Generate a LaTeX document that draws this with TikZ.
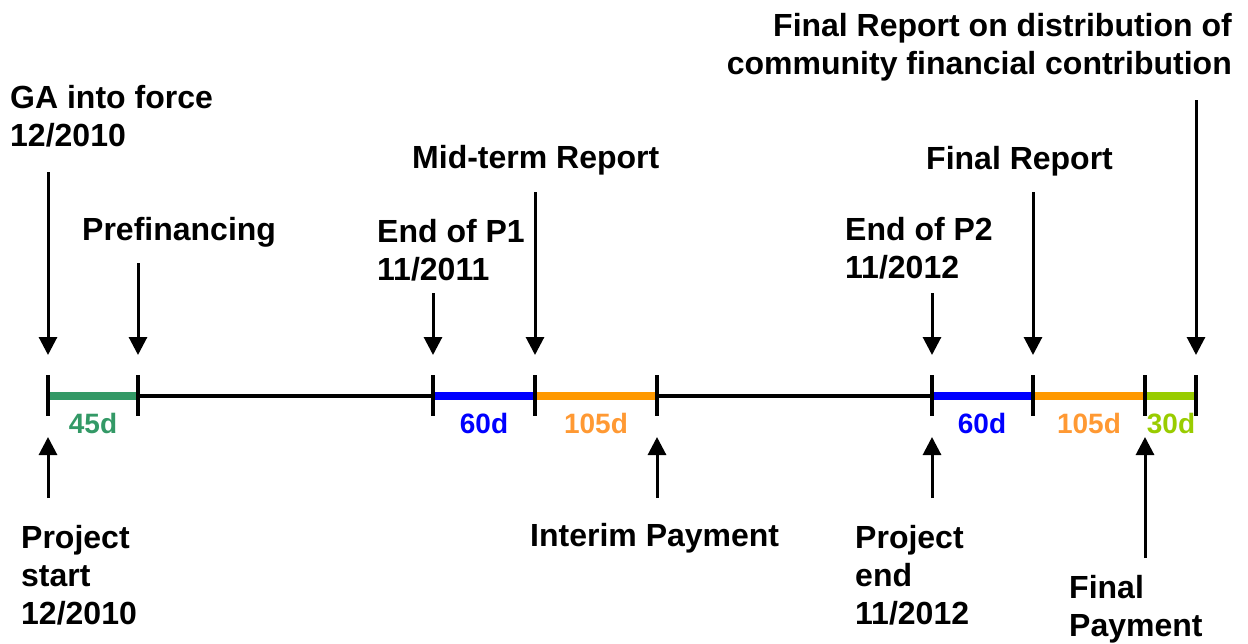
\documentclass[tikz,border=0pt]{standalone}
\usepackage{fontspec}
\setmainfont{Liberation Sans}
\usetikzlibrary{arrows.meta,calc}
\definecolor{segA}{HTML}{339966}
\definecolor{segB}{HTML}{0000FF}
\definecolor{segC}{HTML}{FF9900}
\definecolor{segCt}{HTML}{FF9933}
\definecolor{segD}{HTML}{99CC00}
\newcommand{\stkl}[1]{\vtop{\baselineskip=38pt\halign{##\hfil\cr#1\crcr}}}
\newcommand{\stkr}[1]{\vtop{\baselineskip=38pt\halign{\hfil##\cr#1\crcr}}}
\begin{document}
\begin{tikzpicture}[x=1pt,y=-1pt,
  lbl/.style={inner sep=0pt,font=\fontsize{32}{38}\selectfont\bfseries},
  dur/.style={inner sep=0pt,anchor=base,font=\fontsize{28}{34}\selectfont\bfseries},
  arr/.style={line width=3pt,-{Triangle[width=18pt,length=18pt]}},
  tickmark/.style={line width=3.5pt},
  axis/.style={line width=3.5pt},
  bar/.style={line width=8pt}]
\useasboundingbox (0,0) rectangle (1248,643);
% timeline points
\coordinate (t0) at (48,396);
\coordinate (t1) at (138,396);
\coordinate (t2) at (433,396);
\coordinate (t3) at (535,396);
\coordinate (t4) at (657,396);
\coordinate (t5) at (932,396);
\coordinate (t6) at (1033,396);
\coordinate (t7) at (1145,396);
\coordinate (t8) at (1196,396);
% axis
\draw[axis] (t0) -- (t8);
\draw[bar,segA] (t0) -- (t1);
\draw[bar,segB] (t2) -- (t3);
\draw[bar,segC] (t3) -- (t4);
\draw[bar,segB] (t5) -- (t6);
\draw[bar,segC] (t6) -- (t7);
\draw[bar,segD] (t7) -- (t8);
\foreach \t in {t0,t1,t2,t3,t4,t5,t6,t7,t8}
  \draw[tickmark] ($(\t)+(0,-21)$) -- ($(\t)+(0,20)$);
% durations
\node[dur,text=segA] (d1) at (93,433) {45d};
\node[dur,text=segB] (d2) at (484,433) {60d};
\node[dur,text=segCt] (d3) at (596,433) {105d};
\node[dur,text=segB] (d4) at (982,433) {60d};
\node[dur,text=segCt] (d5) at (1089,433) {105d};
\node[dur,text=segD] (d6) at (1171,433) {30d};
% top labels
\node[lbl,anchor=base west] (ga) at (10,108) {\stkl{GA into force\cr 12/2010}};
\node[lbl,anchor=base west] (pref) at (82,240) {Prefinancing};
\node[lbl,anchor=base west] (p1) at (377,242) {\stkl{End of P1\cr 11/2011}};
\node[lbl,anchor=base west] (mid) at (412,168) {Mid-term Report};
\node[lbl,anchor=base west] (p2) at (845,240) {\stkl{End of P2\cr 11/2012}};
\node[lbl,anchor=base west] (fr) at (926,169) {Final Report};
\node[lbl,anchor=base east] (dist) at (1232,36) {\stkr{Final Report on distribution of\cr community financial contribution}};
% bottom labels
\node[lbl,anchor=base west] (ps) at (21,548) {\stkl{Project\cr start\cr 12/2010}};
\node[lbl,anchor=base west] (ip) at (530,546) {Interim Payment};
\node[lbl,anchor=base west] (pe) at (855,548) {\stkl{Project\cr end\cr 11/2012}};
\node[lbl,anchor=base west] (fp) at (1069,598) {\stkl{Final\cr Payment}};
% arrow ends
\coordinate (a-ga) at (48,172);   \coordinate (h-ga) at (48,355);
\coordinate (a-pf) at (138,263);  \coordinate (h-pf) at (138,355);
\coordinate (a-p1) at (433,293);  \coordinate (h-p1) at (433,355);
\coordinate (a-md) at (535,192);  \coordinate (h-md) at (535,355);
\coordinate (a-p2) at (932,293);  \coordinate (h-p2) at (932,355);
\coordinate (a-fr) at (1033,192); \coordinate (h-fr) at (1033,355);
\coordinate (a-ds) at (1196,100); \coordinate (h-ds) at (1196,355);
\coordinate (a-ps) at (48,498);   \coordinate (h-ps) at (48,437);
\coordinate (a-ip) at (657,498);  \coordinate (h-ip) at (657,437);
\coordinate (a-pe) at (932,498);  \coordinate (h-pe) at (932,437);
\coordinate (a-fp) at (1145,558); \coordinate (h-fp) at (1145,437);
\foreach \n in {ga,pf,p1,md,p2,fr,ds,ps,ip,pe,fp}
  \draw[arr] (a-\n) -- (h-\n);
\end{tikzpicture}
\end{document}
